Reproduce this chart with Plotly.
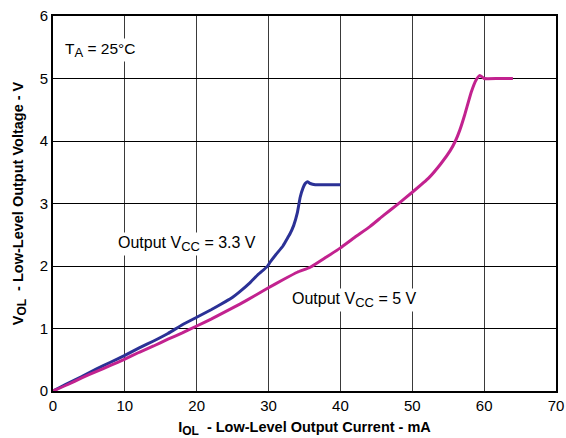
import plotly.graph_objects as go

# Output VCC = 3.3 V curve
i_33 = [0, 2, 4, 6, 8, 10, 12, 14, 16, 18, 20, 22, 24, 25, 26, 27.4, 28.5, 29.8, 30.2, 31, 32, 32.5, 33, 33.5, 34, 34.4, 34.8, 35.1, 35.4, 35.8, 36.5, 38, 40]
v_33 = [0, 0.12, 0.23, 0.35, 0.46, 0.57, 0.69, 0.80, 0.92, 1.06, 1.18, 1.30, 1.43, 1.50, 1.59, 1.73, 1.86, 1.99, 2.06, 2.18, 2.32, 2.42, 2.52, 2.65, 2.85, 3.10, 3.25, 3.32, 3.35, 3.32, 3.30, 3.30, 3.30]

# Output VCC = 5 V curve
i_5 = [0, 2, 4, 6, 8, 10, 12, 14, 16, 18, 20, 22, 24, 26, 28, 29.8, 32, 34, 35.8, 38, 40, 42, 44.1, 46, 48, 50, 52.3, 54, 55.3, 56.0, 56.6, 57.3, 58.2, 58.9, 59.4, 60, 62, 64]
v_5 = [0, 0.10, 0.21, 0.31, 0.41, 0.51, 0.62, 0.72, 0.83, 0.93, 1.04, 1.15, 1.27, 1.39, 1.52, 1.64, 1.78, 1.90, 1.98, 2.14, 2.29, 2.46, 2.63, 2.81, 2.99, 3.18, 3.41, 3.64, 3.85, 4.00, 4.17, 4.42, 4.78, 4.98, 5.05, 5.0, 5.0, 5.0]

x_ticks = [0, 10, 20, 30, 40, 50, 60, 70]
y_ticks = [0, 1, 2, 3, 4, 5, 6]


def sub(s, size=13):
    return "<sub><span style='font-size:%dpx'>%s</span></sub>" % (size, s)


fig = go.Figure()
fig.add_trace(go.Scatter(x=i_33, y=v_33, mode="lines",
                         line=dict(color="#2B3196", width=3, shape="spline", smoothing=0.4),
                         showlegend=False))
fig.add_trace(go.Scatter(x=i_5, y=v_5, mode="lines",
                         line=dict(color="#C2228F", width=3, shape="spline", smoothing=0.4),
                         showlegend=False))

font_family = "Liberation Sans, Arial, sans-serif"

fig.update_layout(
    width=566, height=438,
    margin=dict(l=53, r=10, t=16, b=47),
    plot_bgcolor="white", paper_bgcolor="white",
    font=dict(family=font_family, size=14, color="black"),
    xaxis=dict(range=[0, 70], tickvals=x_ticks, showgrid=True, gridcolor="#3a3a3a", gridwidth=1,
               zeroline=False, showline=True, linecolor="black", linewidth=2, mirror=True,
               ticks="", tickfont=dict(size=15), automargin=False,
               title=dict(text="<b>I" + sub("OL", 12) + "  - Low-Level Output Current - mA</b>",
                          font=dict(size=14.5), standoff=9)),
    yaxis=dict(range=[0, 6], tickvals=y_ticks, showgrid=True, gridcolor="black", gridwidth=1,
               zeroline=False, showline=True, linecolor="black", linewidth=2, mirror=True,
               ticks="", tickfont=dict(size=15), automargin=False,
               title=dict(text="<b>V" + sub("OL", 12) + "  - Low-Level Output Voltage - V</b>",
                          font=dict(size=14.5), standoff=13)),
    annotations=[
        dict(x=1.4, y=5.45, xref="x", yref="y", xanchor="left", yanchor="middle",
             text="T" + sub("A") + " = 25°C", showarrow=False, font=dict(size=15.5),
             bgcolor="white"),
        dict(x=8.8, y=2.35, xref="x", yref="y", xanchor="left", yanchor="middle",
             text="Output V" + sub("CC") + " = 3.3 V", showarrow=False, font=dict(size=16),
             bgcolor="white"),
        dict(x=33.0, y=1.45, xref="x", yref="y", xanchor="left", yanchor="middle",
             text="Output V" + sub("CC") + " = 5 V", showarrow=False, font=dict(size=16),
             bgcolor="white"),
    ],
)

fig.write_html("out.html", config={"displayModeBar": False},
               post_script="document.body.style.margin='0';")
